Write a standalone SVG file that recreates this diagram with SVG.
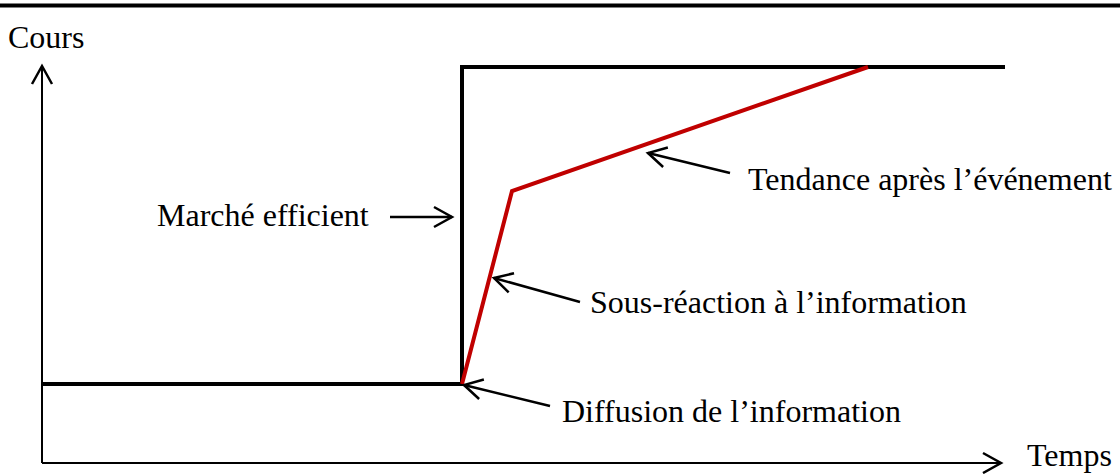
<svg xmlns="http://www.w3.org/2000/svg" width="1120" height="474" viewBox="0 0 1120 474">
<defs>
<style>
.lbl{font-family:"Liberation Serif","Times New Roman",serif;font-size:32px;fill:#000}
.ax{stroke:#000;stroke-width:2;fill:none}
.ann{stroke:#000;stroke-width:2.5;fill:none}
.blk{stroke:#000;stroke-width:4;fill:none;stroke-linejoin:miter}
.red{stroke:#c00000;stroke-width:4;fill:none;stroke-linejoin:miter}
</style>
<marker id="arr" markerUnits="userSpaceOnUse" viewBox="-20 -12 24 24" markerWidth="24" markerHeight="24" refX="0" refY="0" orient="auto">
<path d="M-18,-10 L0,0 L-18,10" fill="none" stroke="#000" stroke-width="2.5"/>
</marker>
</defs>
<rect width="1120" height="474" fill="#fff"/>
<line x1="0" y1="5.5" x2="1120" y2="5.5" stroke="#000" stroke-width="4"/>
<g id="axes">
<line class="ax" x1="42" y1="463" x2="42" y2="66" marker-end="url(#arr)"/>
<line class="ax" x1="42" y1="463" x2="1001" y2="463" marker-end="url(#arr)"/>
<text class="lbl" x="8" y="48">Cours</text>
<text class="lbl" x="1027" y="466">Temps</text>
</g>
<g id="curves">
<polyline class="blk" points="42,384 462,384 462,67 1005,67"/>
<polyline class="red" points="462,384 512,191 868,67"/>
</g>
<g id="connectors">
<line class="ann" x1="390" y1="217" x2="452" y2="217" marker-end="url(#arr)"/>
<line class="ann" x1="730" y1="173" x2="648" y2="153" marker-end="url(#arr)"/>
<line class="ann" x1="580" y1="302" x2="494" y2="278" marker-end="url(#arr)"/>
<line class="ann" x1="550" y1="406" x2="464" y2="385" marker-end="url(#arr)"/>
</g>
<g id="label-marche"><text class="lbl" x="157" y="226">Marché efficient</text></g>
<g id="label-tendance"><text class="lbl" x="748" y="190">Tendance après l’événement</text></g>
<g id="label-sous"><text class="lbl" x="590" y="313">Sous-réaction à l’information</text></g>
<g id="label-diffusion"><text class="lbl" x="562" y="422">Diffusion de l’information</text></g>
</svg>
